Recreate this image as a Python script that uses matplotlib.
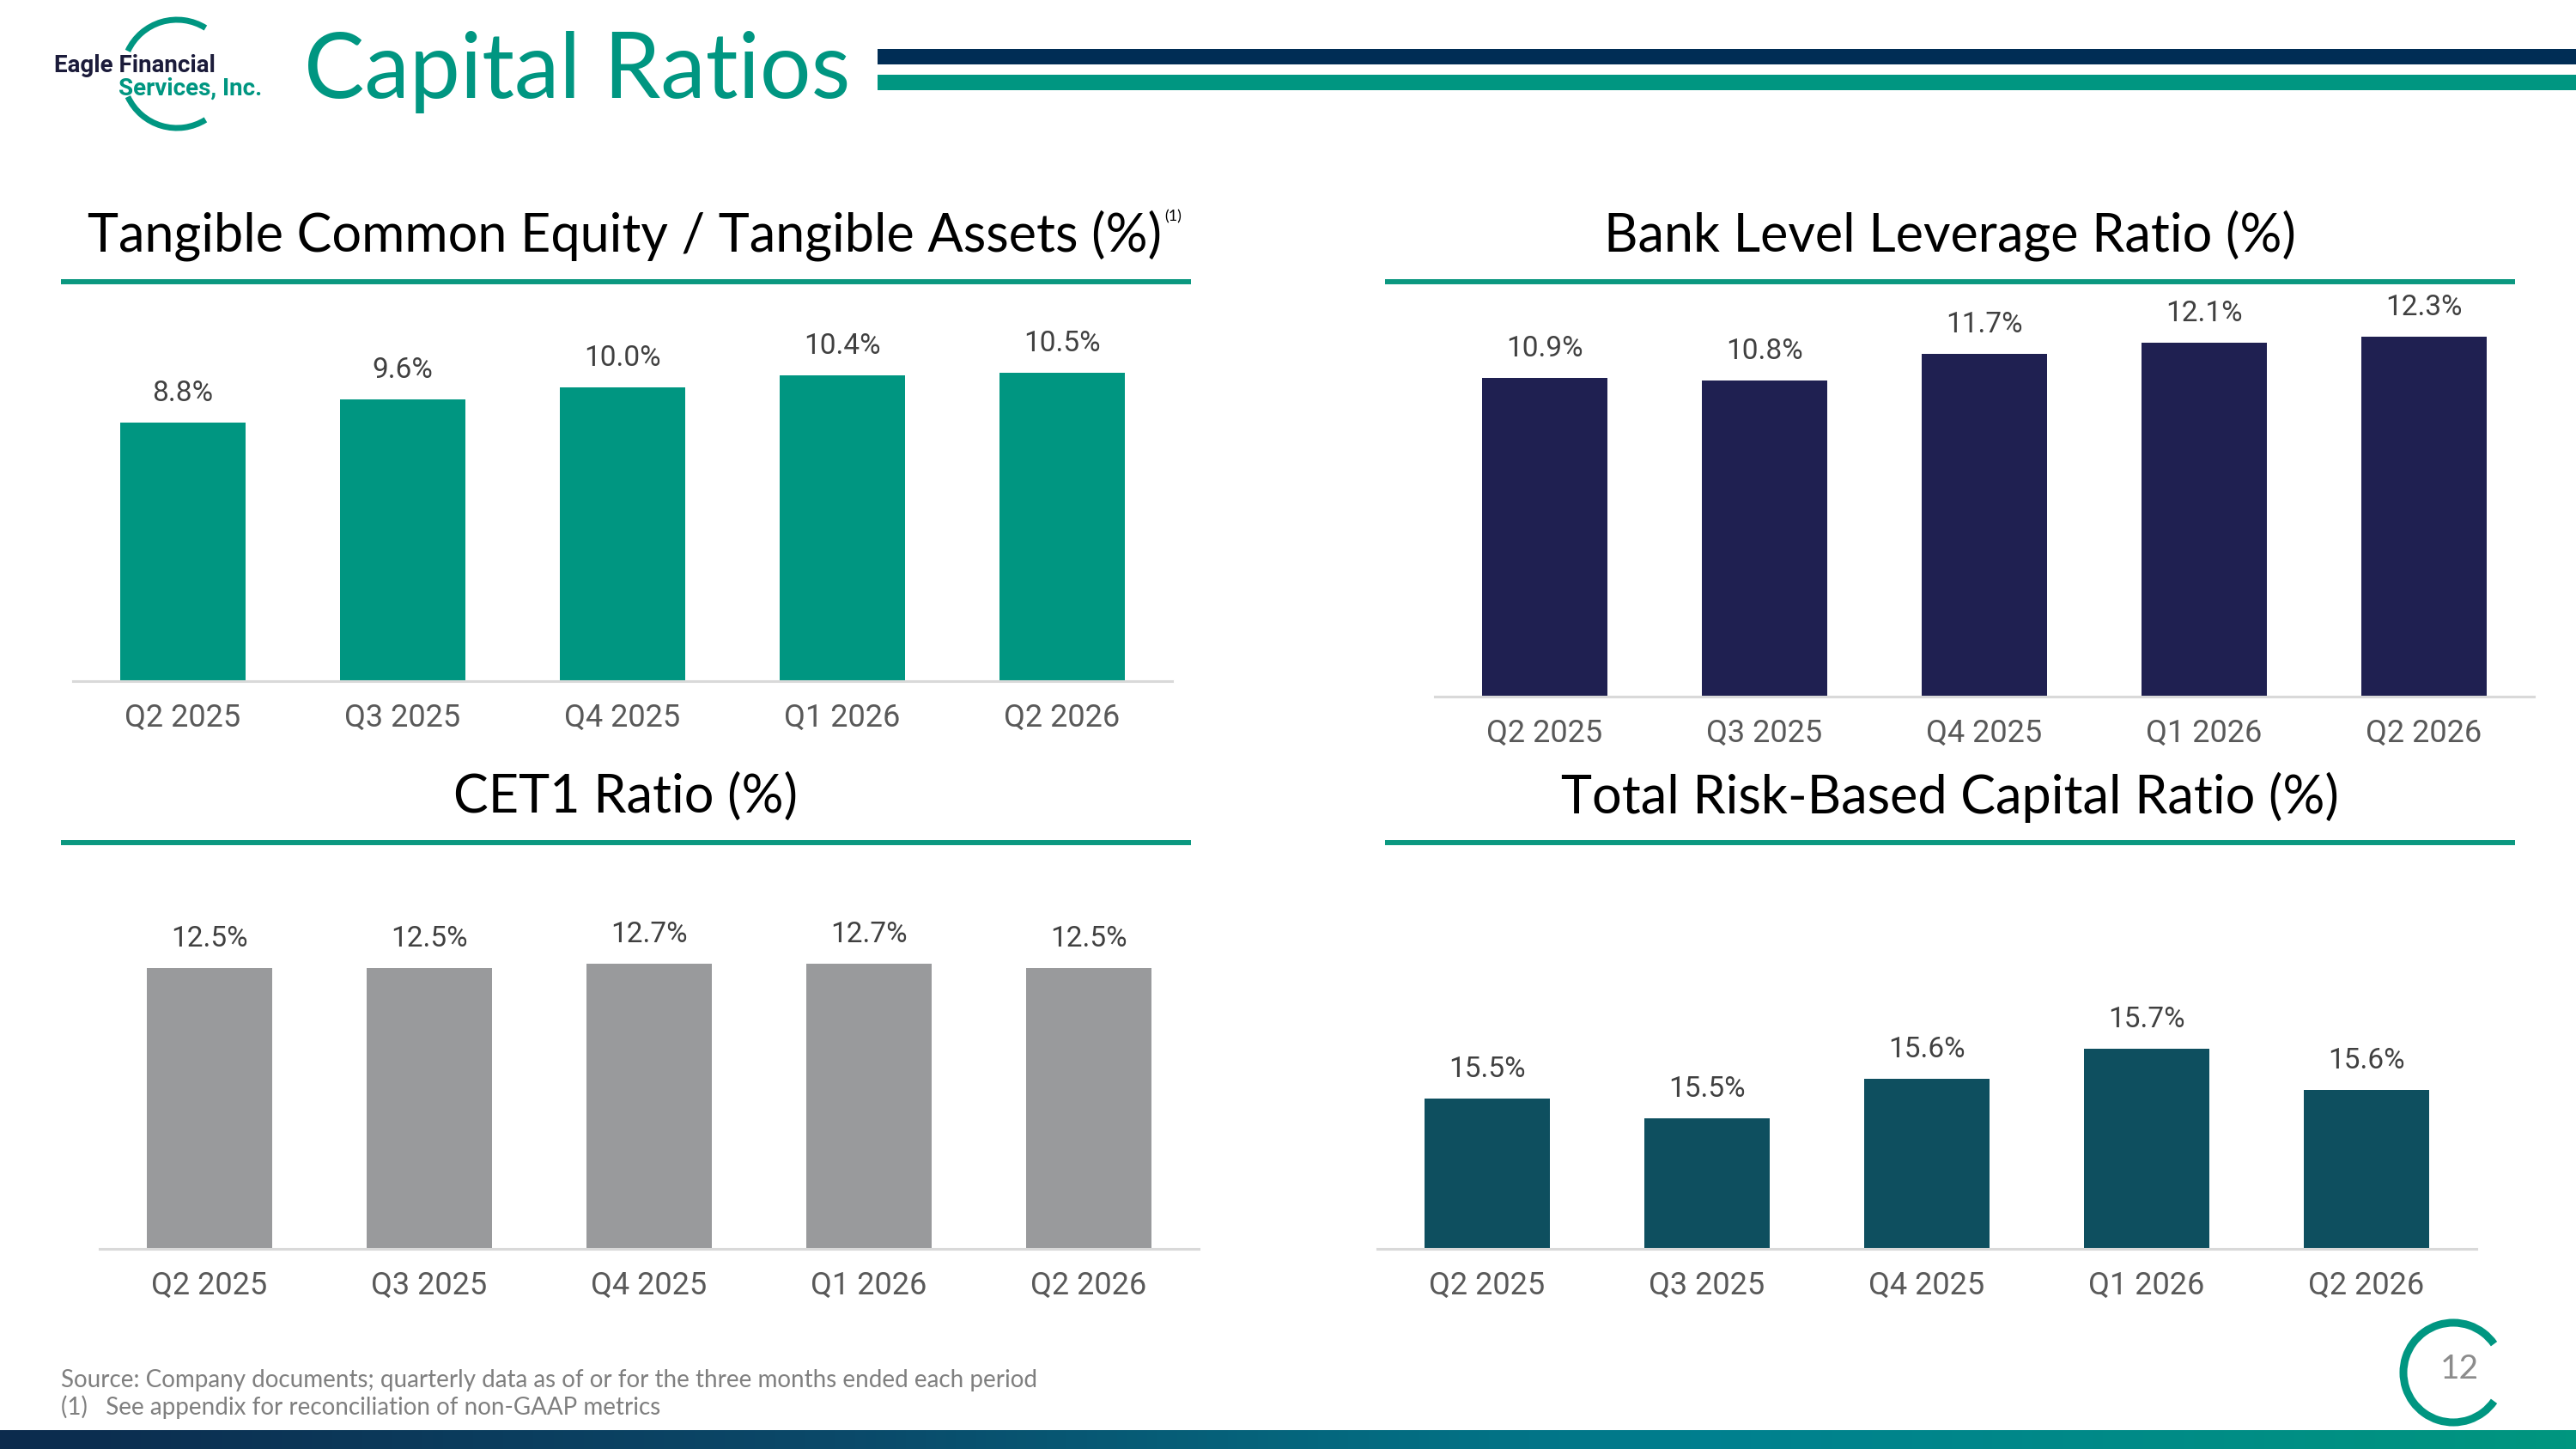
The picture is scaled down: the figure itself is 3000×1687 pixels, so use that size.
import matplotlib
matplotlib.use("Agg")
import matplotlib.pyplot as plt
from matplotlib.patches import Arc, Rectangle
from matplotlib.colors import LinearSegmentedColormap
import numpy as np

W, H = 3000, 1687

quarters = ["Q2 2025", "Q3 2025", "Q4 2025", "Q1 2026", "Q2 2026"]
tce_ratio = [8.8, 9.6, 10.0, 10.4, 10.5]
leverage_ratio = [10.9, 10.8, 11.7, 12.1, 12.3]
cet1_ratio = [12.5, 12.5, 12.7, 12.7, 12.5]
total_rbc_ratio = [15.54, 15.47, 15.61, 15.72, 15.57]

TEAL = "#009681"
NAVY_BAR = "#1F2051"
GRAY_BAR = "#999A9C"
DARK_TEAL = "#0E4F5F"
HEADER_NAVY = "#002D55"

TITLE_FONT = ["Lato", "DejaVu Sans"]
NUM_FONT = ["Roboto", "DejaVu Sans"]

fig = plt.figure(figsize=(W / 100, H / 100), dpi=100)
fig.patch.set_facecolor("white")

# overlay in pixel coordinates (y downwards) for the slide decoration
deco = fig.add_axes([0, 0, 1, 1])
deco.set_xlim(0, W)
deco.set_ylim(H, 0)
deco.axis("off")

# header
deco.add_patch(Rectangle((1022, 57), W - 1022, 18, color=HEADER_NAVY, lw=0))
deco.add_patch(Rectangle((1022, 87), W - 1022, 18, color=TEAL, lw=0))
deco.text(354, 84, "Capital Ratios", fontsize=76, color=TEAL, family=TITLE_FONT,
          ha="left", va="center")

# logo
for a1, a2 in [(58, 155), (205, 302)]:
    deco.add_patch(Arc((206, 86), 126, 126, theta1=a1, theta2=a2, color=TEAL, lw=5))
deco.text(63, 76, "Eagle Financial", fontsize=20, fontweight="bold", color="#1B1B3A",
          family=NUM_FONT, ha="left", va="center")
deco.text(138, 103, "Services, Inc.", fontsize=20, fontweight="bold", color=TEAL,
          family=NUM_FONT, ha="left", va="center")

# panel titles and underlines
panel_titles = [
    ("Tangible Common Equity / Tangible Assets (%)", 727, 274, 71, 1387, 328),
    ("Bank Level Leverage Ratio (%)", 2271, 274, 1613, 2929, 328),
    ("CET1 Ratio (%)", 729, 928, 71, 1387, 981),
    ("Total Risk-Based Capital Ratio (%)", 2271, 928, 1613, 2929, 981),
]
for label, cx, cy, x0, x1, ly in panel_titles:
    deco.text(cx, cy, label, fontsize=44, color="black", family=TITLE_FONT,
              ha="center", va="center")
    deco.hlines(ly, x0, x1, color="#0B9880", lw=4.3)
deco.text(1356, 252, "(1)", fontsize=13, color="black", family=TITLE_FONT,
          ha="left", va="center")

# footer
deco.text(71, 1607, "Source: Company documents; quarterly data as of or for the three months ended each period",
          fontsize=20, color="#7F7F7F", family=TITLE_FONT, ha="left", va="center")
deco.text(71, 1638, "(1)   See appendix for reconciliation of non-GAAP metrics",
          fontsize=20, color="#7F7F7F", family=TITLE_FONT, ha="left", va="center")

# page number
deco.add_patch(Arc((2857, 1598), 116, 116, theta1=35, theta2=325, color=TEAL, lw=6.5))
deco.text(2864, 1594, "12", fontsize=28, color="#8C8C8C", family=TITLE_FONT,
          ha="center", va="center")

# bottom gradient strip
grad = LinearSegmentedColormap.from_list("strip", ["#0C2B4D", "#0A4A6A", "#00808F", "#00967F"])
deco.imshow(np.linspace(0, 1, 512).reshape(1, -1), cmap=grad, aspect="auto",
            extent=[0, W, H, 1665], zorder=1)
deco.set_xlim(0, W)
deco.set_ylim(H, 0)


def bar_panel(left, right, bottom, top, values, color, ylim):
    ax = fig.add_axes([left / W, 1 - bottom / H, (right - left) / W, (bottom - top) / H])
    ax.patch.set_alpha(0)
    x = np.arange(len(values))
    ax.bar(x, values, width=0.57, color=color, zorder=2)
    ax.set_xlim(-0.5, len(values) - 0.5)
    ax.set_ylim(*ylim)
    for s in ["left", "right", "top"]:
        ax.spines[s].set_visible(False)
    ax.spines["bottom"].set_color("#D9D9D9")
    ax.spines["bottom"].set_linewidth(2.2)
    ax.spines["bottom"].set_zorder(3)
    ax.set_yticks([])
    ax.set_xticks(x)
    ax.set_xticklabels(quarters, family=NUM_FONT)
    ax.tick_params(axis="x", length=0, pad=18, labelsize=26, labelcolor="#595959")
    for xi, v in zip(x, values):
        ax.annotate(f"{v:.1f}%", (xi, v), xytext=(0, 13), textcoords="offset points",
                    ha="center", va="bottom", fontsize=24, color="#404040", family=NUM_FONT)
    return ax


bar_panel(85, 1365, 793, 340, tce_ratio, TEAL, (0, 13.25))
bar_panel(1671, 2951, 811, 350, leverage_ratio, NAVY_BAR, (0, 13.53))
bar_panel(116, 1396, 1454, 1020, cet1_ratio, GRAY_BAR, (0, 16.6))
bar_panel(1604, 2884, 1454, 1020, total_rbc_ratio, DARK_TEAL, (15.0, 16.34))

fig.savefig("out.png", dpi=100)
